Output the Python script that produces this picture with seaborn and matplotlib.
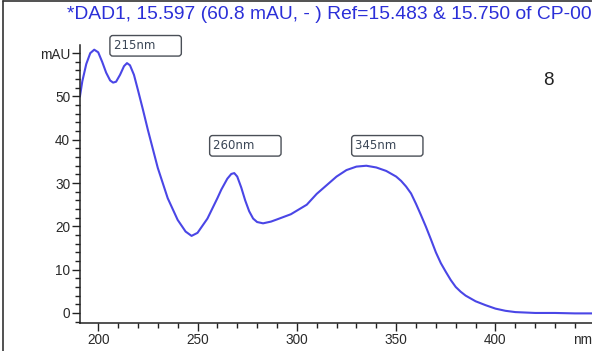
import numpy as np
import pandas as pd
import matplotlib
matplotlib.use("Agg")
import matplotlib.pyplot as plt
from matplotlib.ticker import MultipleLocator, FixedLocator, FixedFormatter
from matplotlib.lines import Line2D
import seaborn as sns

# spectrum (wavelength nm, absorbance mAU)
wavelength = [190.8, 192, 194, 196, 198, 200, 202, 204, 206, 207.5, 209, 211,
              213, 214.5, 216, 218, 220, 222.5, 225, 230, 235, 240, 244, 247,
              250, 255, 260, 262, 265, 267, 268.5, 270, 272, 274, 276, 278, 280,
              283, 287, 290, 297, 305, 310, 315, 320, 325, 330, 335, 340, 345,
              350, 352.5, 355, 357.5, 360, 362.5, 365, 367.5, 370, 372.5, 375,
              377.5, 380, 382.5, 385, 390, 395, 400, 405, 410, 420, 430, 440, 449]
absorbance = [50, 53.5, 57.5, 60, 60.8, 60.2, 58, 55.5, 53.7, 53.2, 53.4, 55,
              57, 57.7, 57.2, 55, 51.5, 47, 42.3, 33.5, 26.5, 21.5, 18.8, 17.8,
              18.5, 21.8, 26.5, 28.5, 31, 32.1, 32.3, 31.5, 29, 26, 23.5, 21.8, 21,
              20.7, 21.1, 21.6, 22.8, 25, 27.5, 29.5, 31.5, 33, 33.8, 34, 33.6, 32.8,
              31.5, 30.5, 29.2, 27.6, 25.2, 22.6, 19.9, 17, 14, 11.5, 9.5,
              7.6, 6, 4.9, 4, 2.7, 1.8, 1.0, 0.5, 0.2, 0, 0, -0.1, -0.1]

peak_labels = ["215nm", "260nm", "345nm"]
peak_label_x = [207.8, 258, 329.5]
peak_label_y = [61.7, 38.6, 38.6]

title = "*DAD1, 15.597 (60.8 mAU, - ) Ref=15.483 & 15.750 of CP-00"
y_ticks = [0, 10, 20, 30, 40, 50, 60]
y_ticklabels = ["0", "10", "20", "30", "40", "50", "mAU"]
x_ticks = [200, 250, 300, 350, 400]

df = pd.DataFrame({"nm": wavelength, "mAU": absorbance})

sns.set_style("white")
plt.rcParams["font.family"] = ["Liberation Sans", "DejaVu Sans"]

fig = plt.figure(figsize=(5.92, 3.51), dpi=100)
ax = fig.add_axes([0.135, 0.08, 0.865, 0.792])

sns.lineplot(data=df, x="nm", y="mAU", ax=ax, color="#4a46e6", linewidth=1.5)

ax.set_xlim(190.8, 448.6)
ax.set_ylim(-2.3, 61.9)
ax.set_xlabel("")
ax.set_ylabel("")

for s in ["top", "right"]:
    ax.spines[s].set_visible(False)
for s in ["left", "bottom"]:
    ax.spines[s].set_color("#222222")
    ax.spines[s].set_linewidth(1.1)

ax.yaxis.set_major_locator(FixedLocator(y_ticks))
ax.yaxis.set_major_formatter(FixedFormatter(y_ticklabels))
ax.yaxis.set_minor_locator(MultipleLocator(2))
ax.xaxis.set_major_locator(FixedLocator(x_ticks))
ax.xaxis.set_minor_locator(MultipleLocator(10))
ax.tick_params(axis="both", which="major", direction="out", length=6, width=1,
               color="#222222", labelsize=9.8, labelcolor="#2a2a2a", pad=1)
ax.tick_params(axis="both", which="minor", direction="out", length=3.5, width=1,
               color="#222222")
ax.tick_params(axis="both", which="both", bottom=True, left=True)

ax.text(1.0, -0.035, "nm", transform=ax.transAxes, ha="right", va="top",
        fontsize=9.8, color="#2a2a2a")

# boxed peak labels, text sits left in a wider box
for lab, lx, ly in zip(peak_labels, peak_label_x, peak_label_y):
    ax.text(lx, ly, lab + "      ", ha="left", va="center", fontsize=8.5,
            color="#3a4656", family=["DejaVu Sans"], clip_on=False,
            bbox=dict(boxstyle="round,pad=0.32,rounding_size=0.25",
                      fc="white", ec="#4a4f57", lw=1.0))
ax.text(426.4, 53.8, "8", ha="center", va="center", fontsize=13.5, color="#222222")

fig.text(0.113, 0.96, title, ha="left", va="center", fontsize=13.9,
         color="#2b2fd8")

# outer frame of the original screenshot
fig.add_artist(Line2D([0.005, 0.005], [0, 0.997], transform=fig.transFigure,
                      color="#333333", lw=1.2))
fig.add_artist(Line2D([0.005, 1], [0.997, 0.997], transform=fig.transFigure,
                      color="#333333", lw=1.2))

fig.savefig("out.png", dpi=100)
